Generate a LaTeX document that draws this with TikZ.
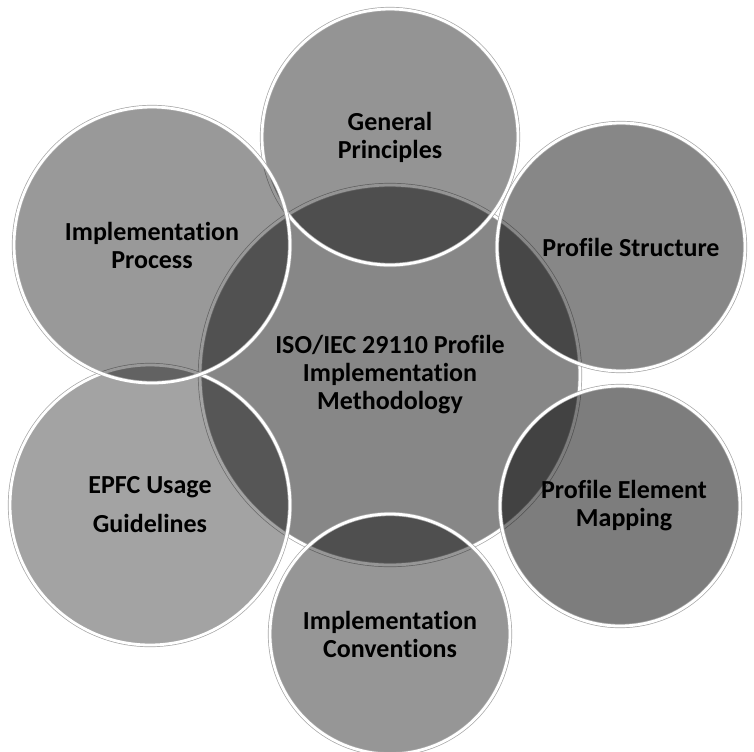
\documentclass[tikz,border=0pt]{standalone}
\usepackage{fontspec}
\setmainfont{Carlito}[RawFeature={-liga;-clig;-calt;-dlig}]

\begin{document}
\begin{tikzpicture}[x=0.5pt,y=-0.5pt,
  bubble/.style={circle, fill=black, text=black, text opacity=1,
    draw=gray!70, double=white, double distance=1.4pt, line width=0.35pt,
    align=center, inner sep=0pt,
    font={\fontsize{13}{14}\selectfont\bfseries}},
  hub/.style={bubble, fill opacity=0.47, minimum size=190pt}]

\useasboundingbox (0,0) rectangle (754,751);

% centre
\node[hub] (ISO) at (390,375) {ISO/IEC 29110 Profile\\Implementation\\Methodology};

% ring of topics
\node[bubble, fill opacity=0.42, minimum size=128pt] (GP) at (390,137)
  {General\\Principles};
\node[bubble, fill opacity=0.47, minimum size=124pt] (PS) at (621,247)
  {\hspace*{10pt}Profile Structure};
\node[bubble, fill opacity=0.51, minimum size=120pt] (PEM) at (620,506)
  {\hspace*{4pt}Profile Element\\\hspace*{4pt}Mapping};
\node[bubble, fill opacity=0.41, minimum size=120pt] (IC) at (390,634)
  {Implementation\\Conventions};
\node[bubble, fill opacity=0.36, minimum size=140pt, font={\fontsize{13}{19.5}\selectfont\bfseries}] (EPFC) at (150,505)
  {EPFC Usage\\Guidelines};
\node[bubble, fill opacity=0.40, minimum size=138pt] (IP) at (152,245)
  {Implementation\\Process};

%\draw (ISO) -- (GP);

\end{tikzpicture}
\end{document}
